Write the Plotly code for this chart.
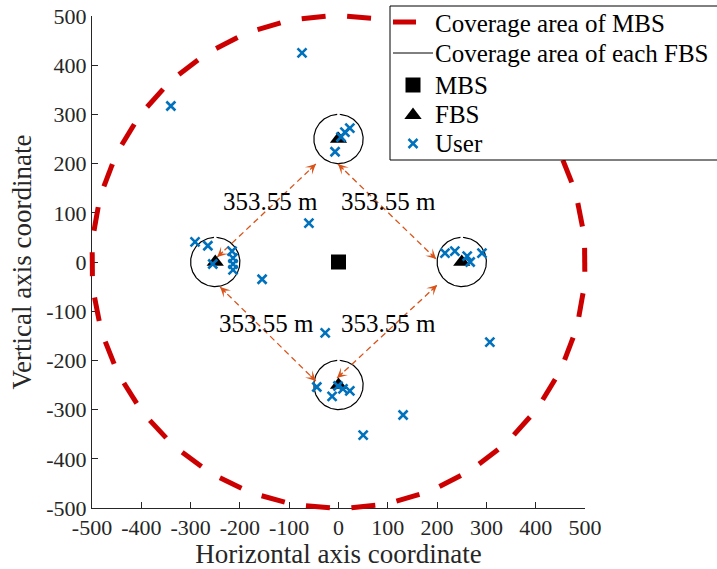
import numpy as np
import plotly.graph_objects as go

# ---- network layout -------------------------------------------------------
mbs_x = [0]
mbs_y = [0]
mbs_radius = 500

fbs_x = [0, 250, 0, -250]
fbs_y = [250, 0, -250, 0]
fbs_radius = 50

# user positions
user_x = [-7, 5, 13, 23,
          -291, -265, -255, -216, -214, -214, -214,
          216, 236, 261, 267, 291,
          -44, -13, -1, 9, 23,
          -74, -340, -60, -155, -27, 307, 131, 50]
user_y = [224, 254, 264, 272,
          41, 33, -4, 22, 8, -4, -16,
          18, 22, 12, 0, 18,
          -254, -273, -252, -258, -262,
          425, 317, 79, -35, -144, -163, -311, -352]

# distance arrows between neighbouring FBSs
arrow_start_x = [-246, -1, -240, -3]
arrow_start_y = [10, 199, -51, -236]
arrow_end_x = [-46, 198, -46, 200]
arrow_end_y = [199, 6, -242, -47]
dist_label_x = [-137, 102, -147, 102]
dist_label_y = [122, 122, -126, -124]

tick_vals = list(range(-500, 501, 100))
tick_text = [str(v) for v in tick_vals]

legend_names = ["Coverage area of MBS", "Coverage area of each FBS",
                "MBS", "FBS", "User"]

# ---- styling ---------------------------------------------------------------
FONT = "Liberation Serif, Times New Roman, serif"
AX_COLOR = "#262626"
RED = "rgb(204,0,0)"
ORANGE = "#D95319"
BLUE = "#0072BD"

W, H = 717, 569
PL, PR, PT, PB = 92, 585, 16, 508          # plot box in pixels
px_x = (PR - PL) / 1000.0
px_y = (PB - PT) / 1000.0
PAD = 12                                    # extra room so the thick circle is not clipped


def paper(px, py):
    """pixel position -> paper coordinates"""
    return px / W, 1 - py / H


fig = go.Figure()

# MBS coverage: dashed circle built from separate arc pieces (34 dashes),
# on a slightly larger hidden subplot that shares the same scale
n_dash = 34
dash_px = 24.0
r_px = mbs_radius * (px_x + px_y) / 2
half = dash_px / 2 / r_px
first = np.deg2rad(0.5)
rx, ry = [], []
for k in range(n_dash):
    c = first + k * 2 * np.pi / n_dash
    t = np.linspace(c - half, c + half, 12)
    rx += list(mbs_x[0] + mbs_radius * np.cos(t)) + [None]
    ry += list(mbs_y[0] + mbs_radius * np.sin(t)) + [None]
fig.add_trace(go.Scatter(
    x=rx, y=ry, mode="lines", name=legend_names[0],
    line=dict(color=RED, width=5),
    xaxis="x2", yaxis="y2", hoverinfo="skip"))

# FBS coverage circles (small opening at the top where the path starts/ends)
gap = np.deg2rad(3)
tf = np.linspace(np.pi / 2 + gap, np.pi / 2 + 2 * np.pi - gap, 200)
cx, cy = [], []
for fx, fy in zip(fbs_x, fbs_y):
    cx += list(fx + fbs_radius * np.cos(tf)) + [None]
    cy += list(fy + fbs_radius * np.sin(tf)) + [None]
fig.add_trace(go.Scatter(
    x=cx, y=cy, mode="lines", name=legend_names[1],
    line=dict(color="black", width=1.2), hoverinfo="skip"))

# distance arrows: dashed shafts
for sx, sy, ex, ey in zip(arrow_start_x, arrow_start_y, arrow_end_x, arrow_end_y):
    fig.add_trace(go.Scatter(
        x=[sx, ex], y=[sy, ey], mode="lines",
        line=dict(color=ORANGE, width=1.3, dash="6px,4px"), hoverinfo="skip"))

fig.add_trace(go.Scatter(
    x=mbs_x, y=mbs_y, mode="markers", name=legend_names[2],
    marker=dict(symbol="square", size=15, color="black")))
fig.add_trace(go.Scatter(
    x=fbs_x, y=fbs_y, mode="markers", name=legend_names[3],
    marker=dict(symbol="triangle-up", size=15, color="black")))
fig.add_trace(go.Scatter(
    x=user_x, y=user_y, mode="markers", name=legend_names[4],
    marker=dict(symbol="x-thin", size=9, color=BLUE,
                line=dict(color=BLUE, width=2.6))))

# arrow heads at both ends of every shaft
annotations = []
head_len = 20.0
for sx, sy, ex, ey in zip(arrow_start_x, arrow_start_y, arrow_end_x, arrow_end_y):
    d = np.array([ex - sx, ey - sy], dtype=float)
    d /= np.hypot(*d)
    for (tx, ty), sgn in (((sx, sy), 1), ((ex, ey), -1)):
        annotations.append(dict(
            x=tx, y=ty, ax=tx + sgn * head_len * d[0], ay=ty + sgn * head_len * d[1],
            xref="x", yref="y", axref="x", ayref="y", text="",
            showarrow=True, arrowhead=3, arrowsize=1.3, arrowwidth=1.3,
            arrowcolor=ORANGE, standoff=0))

# distance labels
dist = np.hypot(fbs_x[0] - fbs_x[3], fbs_y[0] - fbs_y[3])
for lx, ly in zip(dist_label_x, dist_label_y):
    annotations.append(dict(
        x=lx, y=ly, xref="x", yref="y", text=f"{dist:.2f} m", showarrow=False,
        font=dict(family=FONT, size=25, color="black")))

# ---- legend box (paper coordinates) ---------------------------------------
shapes = []
bx0, by0 = paper(390, 6)
bx1, by1 = paper(W + 5, 160)
shapes.append(dict(type="rect", xref="paper", yref="paper", layer="above",
                   x0=bx0, y0=by1, x1=bx1, y1=by0,
                   fillcolor="white", line=dict(color="black", width=1)))
row_y = [22, 53, 85, 114.5, 143.5]
sym_x = 413

x0, y0 = paper(393, row_y[0]); x1, _ = paper(416, row_y[0])
shapes.append(dict(type="line", xref="paper", yref="paper", layer="above",
                   x0=x0, y0=y0, x1=x1, y1=y0, line=dict(color=RED, width=5)))
x0, y0 = paper(393, row_y[1]); x1, _ = paper(433, row_y[1])
shapes.append(dict(type="line", xref="paper", yref="paper", layer="above",
                   x0=x0, y0=y0, x1=x1, y1=y0, line=dict(color="black", width=1)))
x0, y0 = paper(sym_x - 7.5, row_y[2] - 7.5); x1, y1 = paper(sym_x + 7.5, row_y[2] + 7.5)
shapes.append(dict(type="rect", xref="paper", yref="paper", layer="above",
                   x0=x0, y0=y1, x1=x1, y1=y0, fillcolor="black", line=dict(width=0)))
pa = paper(sym_x - 8.7, row_y[3] + 4.5)
pb = paper(sym_x + 8.7, row_y[3] + 4.5)
pc = paper(sym_x, row_y[3] - 7)
shapes.append(dict(type="path", xref="paper", yref="paper", layer="above",
                   path=f"M {pa[0]},{pa[1]} L {pb[0]},{pb[1]} L {pc[0]},{pc[1]} Z",
                   fillcolor="black", line=dict(width=0)))
for s in (1, -1):
    p0 = paper(sym_x - 4.5, row_y[4] - 4.5 * s)
    p1 = paper(sym_x + 4.5, row_y[4] + 4.5 * s)
    shapes.append(dict(type="line", xref="paper", yref="paper", layer="above",
                       x0=p0[0], y0=p0[1], x1=p1[0], y1=p1[1],
                       line=dict(color=BLUE, width=2.5)))
for name, ry_ in zip(legend_names, [23, 53, 85, 114.5, 143.5]):
    tx, ty = paper(433, ry_)
    annotations.append(dict(x=tx, y=ty, xref="paper", yref="paper", text=name,
                            xanchor="left", yanchor="middle", showarrow=False,
                            font=dict(family=FONT, size=25, color="black")))

axis_common = dict(
    range=[-500, 500], tickvals=tick_vals, ticktext=tick_text,
    ticks="inside", ticklen=6, tickcolor=AX_COLOR, tickwidth=1,
    showline=True, linecolor=AX_COLOR, linewidth=1,
    showgrid=False, zeroline=False,
    tickfont=dict(family=FONT, size=22, color=AX_COLOR),
)

ext_x = PAD / px_x
ext_y = PAD / px_y

fig.update_layout(
    width=W, height=H,
    margin=dict(l=0, r=0, t=0, b=0, autoexpand=False),
    paper_bgcolor="white", plot_bgcolor="rgba(0,0,0,0)",
    xaxis=dict(domain=[PL / W, PR / W], **axis_common,
               title=dict(text="Horizontal axis coordinate", standoff=6,
                          font=dict(family=FONT, size=27, color=AX_COLOR))),
    yaxis=dict(domain=[1 - PB / H, 1 - PT / H], **axis_common,
               title=dict(text="Vertical axis coordinate", standoff=6,
                          font=dict(family=FONT, size=27, color=AX_COLOR))),
    xaxis2=dict(domain=[(PL - PAD) / W, (PR + PAD) / W],
                range=[-500 - ext_x, 500 + ext_x], visible=False, anchor="y2"),
    yaxis2=dict(domain=[1 - (PB + PAD) / H, 1 - (PT - PAD) / H],
                range=[-500 - ext_y, 500 + ext_y], visible=False, anchor="x2"),
    annotations=annotations,
    shapes=shapes,
    showlegend=False,
)

fig.write_html("out.html")
